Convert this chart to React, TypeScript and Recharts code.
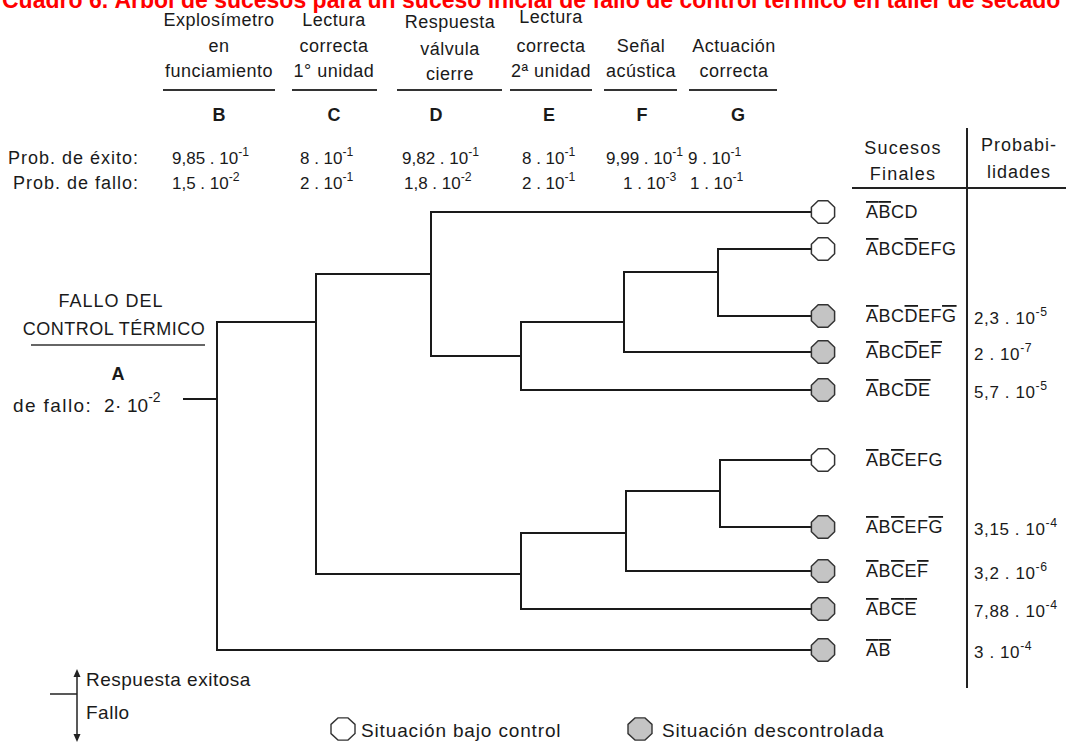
import { ComposedChart, Line, Scatter, XAxis, YAxis } from "recharts";

const W = 1066;
const H = 743;
const FONT = "'Liberation Sans', Arial, sans-serif";
const INK = "#1a1a1a";

// events B..G heading the tree
const eventLetters = ["B", "C", "D", "E", "F", "G"];
const eventTitles = [
  ["Explosímetro", "en", "funciamiento"],
  ["Lectura", "correcta", "1° unidad"],
  ["Respuesta", "válvula", "cierre"],
  ["Lectura", "correcta", "2ª unidad"],
  ["Señal", "acústica"],
  ["Actuación", "correcta"],
];
const probExito = [["9,85", "-1"], ["8", "-1"], ["9,82", "-1"], ["8", "-1"], ["9,99", "-1"], ["9", "-1"]];
const probFallo = [["1,5", "-2"], ["2", "-1"], ["1,8", "-2"], ["2", "-1"], ["1", "-3"], ["1", "-1"]];

// final events, "!" puts a bar over the next letter
const leafNames = [
  "!A!BCD",
  "!ABC!DEFG",
  "!ABC!DEF!G",
  "!ABC!DE!F",
  "!ABC!D!E",
  "!AB!CEFG",
  "!AB!CEF!G",
  "!AB!CE!F",
  "!AB!C!E",
  "!A!B",
];
const leafProbs = [null, null, ["2,3", "-5"], ["2", "-7"], ["5,7", "-5"], null, ["3,15", "-4"], ["3,2", "-6"], ["7,88", "-4"], ["3", "-4"]];
const leafControlled = [true, true, false, false, false, true, false, false, false, false];
const leafY = [212, 249, 316, 352, 390, 460, 527, 571, 609, 650];

// branch points: x of the split, y of success (up) and failure (down) branch
const splits = [
  { id: "B", x: 217, yUp: 322, yDown: 650, upTo: "C", downTo: null },
  { id: "C", x: 316, yUp: 274, yDown: 574, upTo: "D", downTo: "E2" },
  { id: "D", x: 431, yUp: 212, yDown: 356, upTo: null, downTo: "E1" },
  { id: "E1", x: 521, yUp: 322, yDown: 390, upTo: "F1", downTo: null },
  { id: "F1", x: 624, yUp: 272, yDown: 352, upTo: "G1", downTo: null },
  { id: "G1", x: 718, yUp: 249, yDown: 316, upTo: null, downTo: null },
  { id: "E2", x: 521, yUp: 533, yDown: 609, upTo: "F2", downTo: null },
  { id: "F2", x: 626, yUp: 491, yDown: 571, upTo: "G2", downTo: null },
  { id: "G2", x: 720, yUp: 460, yDown: 527, upTo: null, downTo: null },
];
const initiator = { x0: 183, x1: 217, y: 399 };

// layout
const leafX = 823;
const leafEnd = 811;
const headCx = [219, 334, 450, 551, 641, 734];
const headBase = [[26, 52, 77], [26, 52, 77], [28, 55, 80], [23, 52, 77], [52, 77], [52, 77]];
const headLine = [[163, 275], [292, 377], [397, 502], [510, 592], [604, 677], [689, 777]];
const letterX = [219, 334, 436, 549, 642, 738];
const exitoX = [172, 300, 402, 522, 606, 688];
const falloX = [172, 300, 404, 522, 623, 690];

const endX = (id: string | null) => (id ? splits.find((s) => s.id === id)!.x : leafEnd);

const branchPaths = [
  [{ x: initiator.x0, y: initiator.y }, { x: initiator.x1, y: initiator.y }],
  ...splits.map((s) => [
    { x: endX(s.upTo), y: s.yUp },
    { x: s.x, y: s.yUp },
    { x: s.x, y: s.yDown },
    { x: endX(s.downTo), y: s.yDown },
  ]),
];

const leafData = leafY.map((y, i) => ({ x: leafX, y, i }));

function octagon(cx: number, cy: number, rx: number, ry: number) {
  const pts = [];
  for (let k = 0; k < 8; k++) {
    const a = Math.PI / 8 + (k * Math.PI) / 4;
    pts.push(`${(cx + rx * Math.cos(a)).toFixed(1)},${(cy + ry * Math.sin(a)).toFixed(1)}`);
  }
  return pts.join(" ");
}

function T({ x, y, children, size = 18, ls = 0.5, anchor = "start", bold = false }: any) {
  return (
    <text
      x={x}
      y={y}
      fontSize={size}
      fontFamily={FONT}
      fill={INK}
      textAnchor={anchor}
      fontWeight={bold ? "bold" : "normal"}
      letterSpacing={ls}
      style={{ whiteSpace: "pre" }}
    >
      {children}
    </text>
  );
}

function Sci({ x, y, m, e, size = 17, ls = 0 }: { x: number; y: number; m: string; e: string; size?: number; ls?: number }) {
  return (
    <text x={x} y={y} fontSize={size} fontFamily={FONT} fill={INK} letterSpacing={ls} style={{ whiteSpace: "pre" }}>
      {`${m} . 10`}
      <tspan dy={-size * 0.5} fontSize={size * 0.72}>
        {e}
      </tspan>
    </text>
  );
}

function NegName({ x, y, name }: { x: number; y: number; name: string }) {
  const parts: { c: string; neg: boolean }[] = [];
  for (let i = 0; i < name.length; i++) {
    if (name[i] === "!") {
      parts.push({ c: name[i + 1], neg: true });
      i++;
    } else parts.push({ c: name[i], neg: false });
  }
  return (
    <text x={x} y={y} fontSize={18} letterSpacing={0.5} fontFamily={FONT} fill={INK}>
      {parts.map((p, k) => (
        <tspan key={k} style={p.neg ? { textDecoration: "overline" } : undefined}>
          {p.c}
        </tspan>
      ))}
    </text>
  );
}

function LeafMark(props: any) {
  const { cx, cy, payload } = props;
  const i = payload.i;
  const prob = leafProbs[i];
  return (
    <g>
      <polygon
        points={octagon(cx, cy, 12.6, 12.2)}
        fill={leafControlled[i] ? "#ffffff" : "#c4c4c4"}
        stroke="#333"
        strokeWidth={1.5}
      />
      <NegName x={cx + 43} y={cy + 6} name={leafNames[i]} />
      {prob && <Sci x={cx + 151} y={cy + 8} m={prob[0]} e={prob[1]} size={17} ls={0.6} />}
    </g>
  );
}

export default function App() {
  return (
    <div style={{ position: "fixed", left: 0, top: 0, width: W, height: H, background: "#fff", overflow: "hidden" }}>
      <ComposedChart width={W} height={H} margin={{ top: 0, right: 0, bottom: 0, left: 0 }}>
        <XAxis type="number" dataKey="x" domain={[0, W]} hide allowDataOverflow />
        <YAxis type="number" dataKey="y" domain={[0, H]} reversed hide allowDataOverflow />
        {branchPaths.map((p, i) => (
          <Line
            key={i}
            data={p}
            dataKey="y"
            type="linear"
            stroke={INK}
            strokeWidth={2}
            dot={false}
            activeDot={false}
            isAnimationActive={false}
          />
        ))}
        <Scatter data={leafData} dataKey="y" shape={<LeafMark />} isAnimationActive={false} />
      </ComposedChart>

      <svg width={W} height={H} style={{ position: "absolute", left: 0, top: 0, pointerEvents: "none" }}>
        <text x={2} y={8} fontSize={23} fontWeight="bold" fontFamily={FONT} fill="#ff0000">
          Cuadro 6. Árbol de sucesos para un suceso inicial de fallo de control térmico en taller de secado
        </text>

        {eventTitles.map((lines, c) => (
          <g key={c}>
            {lines.map((t, k) => (
              <T key={k} x={headCx[c]} y={headBase[c][k]} anchor="middle">
                {t}
              </T>
            ))}
            <line x1={headLine[c][0]} x2={headLine[c][1]} y1={90} y2={90} stroke="#333" strokeWidth={2} />
            <T x={letterX[c]} y={121} anchor="middle" bold ls={0}>
              {eventLetters[c]}
            </T>
            <Sci x={exitoX[c]} y={164} m={probExito[c][0]} e={probExito[c][1]} />
            <Sci x={falloX[c]} y={189} m={probFallo[c][0]} e={probFallo[c][1]} />
          </g>
        ))}

        <T x={139} y={164} anchor="end" ls={1}>Prob. de éxito:</T>
        <T x={139} y={189} anchor="end" ls={1}>Prob. de fallo:</T>

        <T x={111} y={307} anchor="middle" ls={1}>FALLO DEL</T>
        <T x={114} y={335} anchor="middle">CONTROL TÉRMICO</T>
        <line x1={31} x2={205} y1={345} y2={345} stroke="#333" strokeWidth={1.5} />
        <T x={118} y={380} anchor="middle" bold ls={0}>A</T>
        <T x={13} y={412} size={19} ls={1.4}>de fallo:</T>
        <T x={104} y={412} size={19} ls={0.5}>2·</T>
        <text x={127} y={412} fontSize={19} fontFamily={FONT} fill={INK}>
          10
          <tspan dy={-10} fontSize={14}>-2</tspan>
        </text>

        <T x={903} y={154} anchor="middle" ls={1.2}>Sucesos</T>
        <T x={903} y={180} anchor="middle" ls={1.2}>Finales</T>
        <T x={1019} y={151} anchor="middle" ls={1}>Probabi-</T>
        <T x={1019} y={178} anchor="middle" ls={1}>lidades</T>
        <line x1={967} x2={967} y1={128} y2={688} stroke="#222" strokeWidth={2} />
        <line x1={852} x2={1066} y1={188} y2={188} stroke="#222" strokeWidth={2} />

        <line x1={77} x2={77} y1={674} y2={737} stroke="#222" strokeWidth={1.5} />
        <polygon points="77,669 73.5,677 80.5,677" fill="#222" />
        <polygon points="77,742 73.5,734 80.5,734" fill="#222" />
        <line x1={50} x2={77} y1={694} y2={694} stroke="#222" strokeWidth={1.5} />
        <T x={86} y={686} size={19} ls={0.5}>Respuesta exitosa</T>
        <T x={86} y={719} size={19} ls={0.5}>Fallo</T>

        <polygon points={octagon(343, 729, 13, 12)} fill="#fff" stroke="#333" strokeWidth={1.4} />
        <T x={361} y={737} size={19} ls={0.85}>Situación bajo control</T>
        <polygon points={octagon(640, 729, 13, 12)} fill="#c4c4c4" stroke="#333" strokeWidth={1.4} />
        <T x={662} y={737} size={19} ls={0.85}>Situación descontrolada</T>
      </svg>
    </div>
  );
}
